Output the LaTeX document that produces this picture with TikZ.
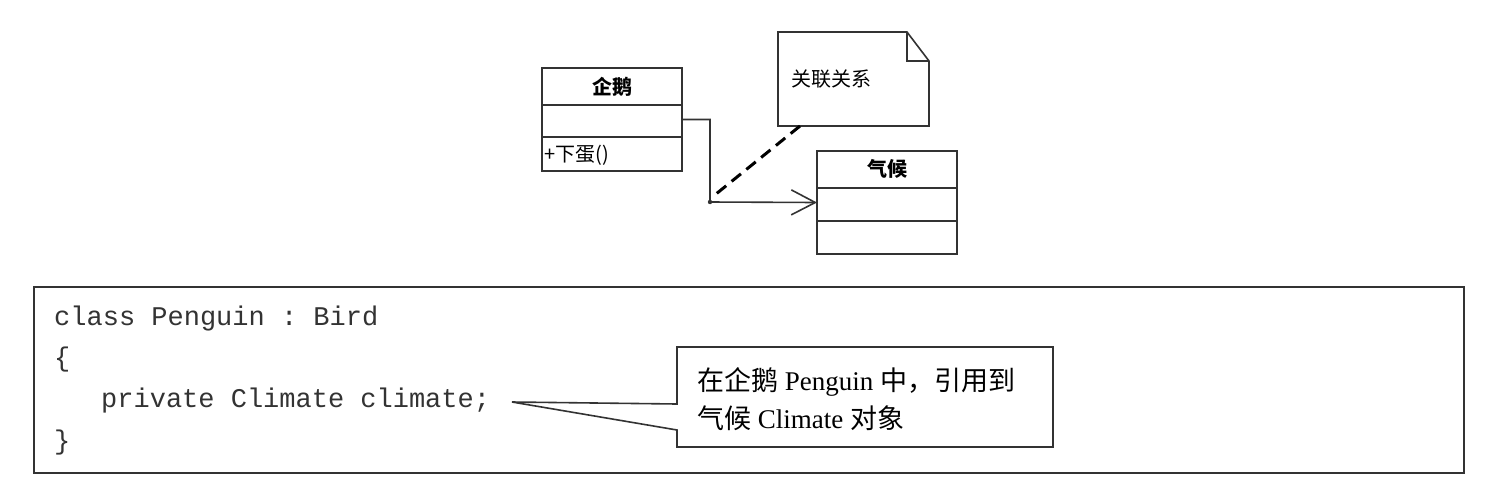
\documentclass[tikz,border=0pt]{standalone}
\usepackage{fontspec}
\setmainfont{Liberation Serif}
\setmonofont{Liberation Mono}
\newfontfamily\cjk{Noto Sans CJK SC}
\usetikzlibrary{arrows.meta}
\definecolor{ink}{HTML}{333333}
\tikzset{
  umlbox/.style={draw=ink, line width=1.6pt, inner sep=0pt, outer sep=0pt, anchor=north west},
  umltext/.style={inner sep=0pt, font=\cjk\fontsize{20pt}{22pt}\selectfont, text=black},
  codetext/.style={inner sep=0pt, anchor=base west, font=\ttfamily\fontsize{27pt}{30pt}\selectfont, text=ink},
  calltext/.style={inner sep=0pt, anchor=base west, font=\rmfamily\fontsize{27pt}{30pt}\selectfont, text=black},
  assoc/.style={draw=ink, line width=1.6pt, -{Straight Barb[length=24pt,width=25pt,line width=1.6pt]}},
  notelink/.style={draw=black, line width=3pt, dash pattern=on 12pt off 7pt},
  plain/.style={draw=ink, line width=1.6pt}
}
\begin{document}
\begin{tikzpicture}[x=1pt,y=-1pt]
\useasboundingbox[fill=white] (0,0) rectangle (1499,499);

% Penguin class
\node[umlbox, minimum width=140pt, minimum height=103pt] (peng) at (542,68) {};
\draw[plain] (542,105) -- (682,105);
\draw[plain] (542,137) -- (682,137);
\node[umltext, font=\cjk\bfseries\fontsize{20pt}{22pt}\selectfont] (pengname) at (612,87) {企鹅};
\node[umltext, anchor=west] (pengop) at (544,155) {+下蛋()};

% Climate class
\node[umlbox, minimum width=140pt, minimum height=103pt] (clim) at (817,151) {};
\draw[plain] (817,188) -- (957,188);
\draw[plain] (817,221) -- (957,221);
\node[umltext, font=\cjk\bfseries\fontsize{20pt}{22pt}\selectfont] (climname) at (887,169) {气候};

% Note
\draw[plain, fill=white] (778,32) -- (907,32) -- (929,61) -- (929,126) -- (778,126) -- cycle;
\draw[plain] (907,32) -- (907,61) -- (929,61);
\node[umltext, anchor=west] (notetxt) at (791,79) {关联关系};
\coordinate (notebot) at (800,126);

% Association
\coordinate (bend) at (710,202);
\draw[assoc] (peng.east) -| (bend) -- (clim.west);
\fill[ink] (bend) circle (2.2);
\coordinate (dashend) at (716,194);
\draw[notelink] (notebot) -- (dashend);

% Code box
\node[umlbox, minimum width=1430pt, minimum height=186pt] (code) at (34,287) {};
\node[codetext] (l1) at (54,325) {class Penguin : Bird};
\node[codetext] (l2) at (54,366) {\{};
\node[codetext] (l3) at (101,407) {private Climate climate;};
\node[codetext] (l4) at (54,449) {\}};

% Callout
\coordinate (tip) at (512,402);
\draw[plain, fill=white] (tip) -- (677,404) -- (677,347) -- (1053,347) -- (1053,447) -- (677,447) -- (677,430) -- cycle;
\node[calltext] (c1) at (697,390) {{\cjk 在企鹅} Penguin {\cjk 中，引用到}};
\node[calltext] (c2) at (697,428) {{\cjk 气候} Climate {\cjk 对象}};
\end{tikzpicture}
\end{document}
